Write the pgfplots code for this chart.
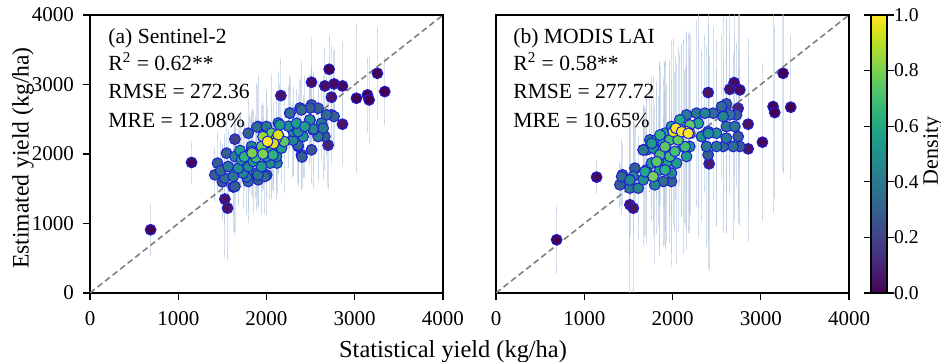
\documentclass[border=0pt]{standalone}
\usepackage{fontspec}
\setmainfont{Liberation Serif}
\usepackage{pgfplots}
\pgfplotsset{compat=1.18}
\usepackage{pgfplotstable}
\definecolor{errc}{RGB}{176,196,222}
\definecolor{edgec}{RGB}{30,30,215}
\definecolor{dashc}{RGB}{128,128,128}

\pgfplotstableread{
x y e d
687 910 330 0.0
3257 3161 620 0.0
3019 2802 1030 0.0
3144 2850 500 0.0
3163 2778 600 0.0
3340 2898 450 0.0
2710 3219 450 0.0
1151 1878 260 0.02
2861 2979 600 0.02
2510 3032 600 0.03
2766 3008 480 0.03
2661 2979 520 0.04
1528 1351 790 0.05
1559 1221 700 0.05
2163 2840 500 0.05
2736 2817 700 0.05
2861 2429 550 0.05
2698 2127 600 0.1
1642 2213 300 0.2
1623 1525 600 0.2
2510 2060 450 0.25
1415 1700 350 0.3
1445 1868 400 0.3
1547 2012 450 0.3
1642 1533 650 0.3
1906 1629 350 0.3
1793 2299 450 0.3
2264 2587 400 0.3
2396 1988 400 0.3
2510 2706 500 0.3
2585 2658 350 0.3
2661 2251 450 0.3
2736 2563 650 0.3
2766 2539 400 0.3
2002 1698 550 0.3
2380 2662 400 0.3
2493 2662 450 0.3
2402 1957 450 0.3
1500 1600 500 0.3
1528 1653 600 0.35
1793 1605 550 0.35
1981 1677 500 0.35
1906 2395 700 0.35
2359 2108 500 0.35
2396 2635 650 0.35
2680 2563 550 0.35
1892 2388 600 0.35
2266 2590 500 0.35
2357 2129 550 0.35
1480 1760 400 0.35
1566 1820 500 0.4
1623 1677 550 0.4
1887 1724 500 0.4
2000 2395 500 0.4
2585 2251 600 0.4
2623 2443 500 0.4
2642 2371 700 0.4
1776 1669 500 0.4
1904 1698 450 0.4
1642 1964 400 0.45
1736 1724 450 0.45
1830 2108 400 0.45
2529 2347 800 0.45
2493 2489 500 0.45
2530 2360 600 0.45
2119 1870 400 0.45
2300 2200 500 0.45
1679 1796 500 0.5
1793 1820 600 0.5
2038 1868 500 0.5
2113 1964 600 0.5
2302 2323 600 0.5
2415 2251 550 0.5
2491 2491 600 0.5
2359 2323 500 0.5
2134 2446 700 0.5
2250 2400 550 0.5
1717 1916 350 0.55
1849 1892 700 0.55
1944 1820 650 0.55
2000 1964 550 0.55
2170 2084 450 0.55
2151 2419 550 0.55
2340 2443 450 0.55
2434 2395 700 0.55
1700 2050 500 0.55
1812 2012 500 0.6
2000 2251 600 0.6
2057 2036 650 0.6
2074 1986 500 0.65
1750 1960 450 0.65
1830 2036 400 0.7
1880 1950 550 0.7
1944 2108 550 0.75
2057 2299 800 0.75
2200 2179 700 0.75
1836 2014 600 0.8
1960 2000 500 0.8
1960 2250 450 0.85
2113 2227 600 0.9
2132 2275 500 0.95
2080 2150 550 0.95
2012 2179 450 1.0
}\dataA

\pgfplotstableread{
x y e d
687 766 450 0.0
3253 3161 1400 0.0
3140 2682 1500 0.0
3159 2596 1200 0.0
3340 2673 1000 0.0
1140 1667 200 0.02
3019 2170 1100 0.02
2698 3027 1300 0.03
2763 2922 1100 0.03
2649 2931 1200 0.04
1517 1269 1300 0.05
1555 1221 1200 0.05
2404 2884 1500 0.05
2857 2074 1300 0.05
2857 2429 1200 0.05
2415 1859 1500 0.08
2744 2658 1400 0.1
1404 1557 300 0.3
1574 1796 600 0.3
1989 1605 1000 0.3
1668 2060 600 0.3
2404 1988 1600 0.3
2611 2721 1200 0.3
2725 2563 1000 0.3
2744 2251 1200 0.3
2763 2108 1100 0.3
1434 1700 400 0.35
1894 1605 900 0.35
1706 2060 700 0.35
2461 2587 1200 0.35
2687 2108 1300 0.35
2574 2108 1200 0.35
2555 2682 1000 0.35
1424 1674 500 0.35
1517 1509 900 0.4
1743 2203 700 0.4
2159 2563 1100 0.4
2272 2587 1300 0.4
2385 2108 1400 0.4
2498 2108 1100 0.4
2611 2395 1500 0.4
2611 2227 1300 0.4
2649 2563 1100 0.4
2706 2395 1300 0.4
1669 2058 600 0.4
1555 1677 800 0.45
1611 1509 700 0.45
1800 1557 1100 0.45
1989 1724 1300 0.45
2366 2587 1100 0.45
2574 2539 1400 0.45
1518 1626 800 0.45
1668 1629 900 0.5
1781 2084 1000 0.5
1819 2203 800 0.5
2196 2108 1200 0.5
2329 2251 1200 0.5
2404 2323 1500 0.5
2498 2299 1300 0.5
2406 2297 1500 0.5
1706 1772 1000 0.55
1762 1868 800 0.55
2046 1868 1400 0.55
1913 2299 1000 0.55
1989 2395 1200 0.55
2159 1964 1300 0.55
1764 2154 900 0.55
1857 1772 1200 0.6
1932 1868 1100 0.6
1894 2155 900 0.6
2083 2491 900 0.6
2291 2443 1600 0.6
2292 2441 1200 0.6
1688 1745 900 0.6
1838 1892 900 0.65
2121 2108 1500 0.65
1915 1770 1100 0.65
1858 2273 1000 0.65
1857 1988 1300 0.7
1970 1964 1200 0.7
2027 2036 1100 0.7
1970 2203 1100 0.7
2142 2105 1100 0.7
2064 2203 1300 0.75
1821 1889 1000 0.75
1915 2105 1200 0.75
2198 2417 1300 0.75
1781 1677 800 0.8
2102 2347 1200 0.85
2196 2299 1100 0.95
2009 2321 1300 0.95
2038 2371 1000 1.0
2159 2323 1400 1.0
2104 2321 1200 1.0
2179 2297 1400 1.0
}\dataB

\tikzset{anno/.style={anchor=base west, inner sep=0pt, font=\fontsize{10.8}{13}\selectfont}}

\pgfplotsset{
  myax/.style={
    scale only axis, width=176.5pt, height=139pt,
    xmin=0, xmax=4000, ymin=0, ymax=4000,
    xtick={0,1000,2000,3000,4000},
    tick align=outside, major tick length=3.5pt,
    tick pos=left,
    axis line style={line width=0.6pt},
    major tick style={line width=0.6pt, black},
    scaled ticks=false,
    /pgf/number format/1000 sep={},
    /pgf/number format/assume math mode=true,
    tick label style={font=\fontsize{10.5}{12}\selectfont},
    xticklabel style={yshift=-2.3pt},
    yticklabel style={xshift=-1pt},
    colormap name=viridis, point meta min=0, point meta max=1,
  },
  errplot/.style={draw=none, mark=none, forget plot,
    error bars/.cd, y dir=both, y explicit,
    error bar style={draw=errc, line width=0.6pt, solid, opacity=0.5},
    error mark options={draw=errc, mark size=1.6pt, line width=0.5pt, opacity=0.5}},
  scatplot/.style={scatter, only marks, mark=*, mark size=2.7pt,
    scatter/use mapped color={draw=edgec, fill=mapped color},
    mark options={line width=0.5pt}, point meta=explicit},
}

\begin{document}
\begin{tikzpicture}
\useasboundingbox (0,0) rectangle (470.5pt,181pt);

\begin{axis}[myax, at={(45pt,34.5pt)}, anchor=south west,
  ytick={0,1000,2000,3000,4000}]
\addplot[errplot] table[x=x, y=y, y error=e] {\dataA};
\addplot[dashc, dashed, dash pattern=on 3pt off 1.8pt, line width=0.8pt, forget plot] coordinates {(0,0) (4000,4000)};
\addplot[scatplot] table[x=x, y=y, meta=d] {\dataA};
\node[anno] at (rel axis cs:0.051,0.896) {(a) Sentinel-2};
\node[anno] at (rel axis cs:0.051,0.802) {R\textsuperscript{2} = 0.62**};
\node[anno] at (rel axis cs:0.051,0.698) {RMSE = 272.36};
\node[anno] at (rel axis cs:0.051,0.597) {MRE = 12.08\%};
\end{axis}

\begin{axis}[myax, at={(248pt,34.5pt)}, anchor=south west,
  ytick=\empty,
  colorbar,
  colorbar style={at={(parent axis.north east)}, anchor=north west, xshift=2.5pt,
    width=8pt, height=139pt, scale only axis,
    ytick={0,0.2,0.4,0.6,0.8,1.0},
    yticklabel style={font=\fontsize{9.8}{11}\selectfont, xshift=-3.5pt, /pgf/number format/.cd, fixed, fixed zerofill, precision=1, assume math mode=true},
    tick align=outside, major tick length=3.5pt,
    axis line style={line width=0.6pt},
    major tick style={line width=0.6pt, black}}]
\addplot[errplot] table[x=x, y=y, y error=e] {\dataB};
\addplot[dashc, dashed, dash pattern=on 3pt off 1.8pt, line width=0.8pt, forget plot] coordinates {(0,0) (4000,4000)};
\addplot[scatplot] table[x=x, y=y, meta=d] {\dataB};
\node[anno] at (rel axis cs:0.048,0.896) {(b) MODIS LAI};
\node[anno] at (rel axis cs:0.048,0.802) {R\textsuperscript{2} = 0.58**};
\node[anno] at (rel axis cs:0.048,0.698) {RMSE = 277.72};
\node[anno] at (rel axis cs:0.048,0.597) {MRE = 10.65\%};
\end{axis}

\node[font=\fontsize{12.2}{14}\selectfont] at (226.5pt,5pt) {Statistical yield (kg/ha)};
\node[font=\fontsize{11.8}{13}\selectfont, rotate=90] at (11.5pt,102pt) {Estimated yield (kg/ha)};
\node[font=\fontsize{11}{13}\selectfont, rotate=90, inner sep=0pt] at (466.5pt,105.5pt) {Density};
\end{tikzpicture}
\end{document}
